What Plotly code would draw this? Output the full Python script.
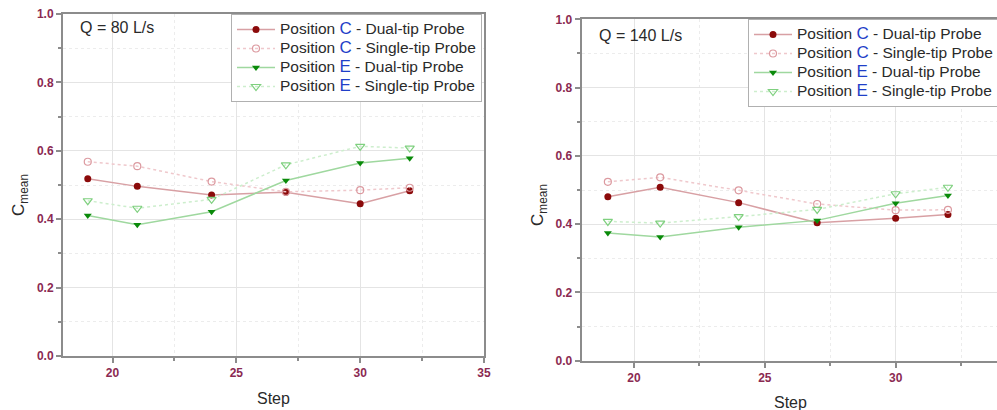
import plotly.graph_objects as go

# Measurement steps
steps = [19, 21, 24, 27, 30, 32]

# Q = 80 L/s
q80_c_dual = [0.518, 0.496, 0.471, 0.479, 0.445, 0.483]
q80_c_single = [0.568, 0.555, 0.510, 0.480, 0.485, 0.492]
q80_e_dual = [0.411, 0.384, 0.422, 0.513, 0.564, 0.578]
q80_e_single = [0.454, 0.432, 0.458, 0.559, 0.613, 0.608]

# Q = 140 L/s
q140_c_dual = [0.480, 0.508, 0.463, 0.404, 0.417, 0.428]
q140_c_single = [0.524, 0.537, 0.499, 0.459, 0.441, 0.442]
q140_e_dual = [0.374, 0.362, 0.391, 0.411, 0.461, 0.484]
q140_e_single = [0.408, 0.403, 0.422, 0.443, 0.489, 0.508]

panel_titles = ["Q = 80 L/s", "Q = 140 L/s"]
y_ticks = [0.0, 0.2, 0.4, 0.6, 0.8, 1.0]
x_ticks = [20, 25, 30, 35]

W, H = 997, 410
def px(x):
    return x / W
def py(y):
    return 1 - y / H

# legend labels: body text at 15.5px, position letter larger and blue
LETTER = "<span style='color:#1f3fc8;font-size:17px'>{}</span>"
def label(letter, probe):
    return ("<span style='font-size:15.5px'>Position " + LETTER.format(letter)
            + " - " + probe + " Probe</span>")

names = [
    label("C", "Dual-tip"),
    label("C", "Single-tip"),
    label("E", "Dual-tip"),
    label("E", "Single-tip"),
]
styles = [
    dict(line=dict(color="#d8a0a4", width=1.5, dash="solid"),
         marker=dict(symbol="circle", size=7, color="#8b0a0a")),
    dict(line=dict(color="#efc8cc", width=1.5, dash="dot"),
         marker=dict(symbol="circle-open", size=7, color="#dc9aa0", line=dict(width=1.2))),
    dict(line=dict(color="#9fd89f", width=1.5, dash="solid"),
         marker=dict(symbol="triangle-down", size=7, color="#0a8a0a")),
    dict(line=dict(color="#cdeecd", width=1.5, dash="dot"),
         marker=dict(symbol="triangle-down-open", size=8, color="#7fd07f", line=dict(width=1.2))),
]

fig = go.Figure()
panels = [
    ("x", "y", "legend", [q80_c_dual, q80_c_single, q80_e_dual, q80_e_single]),
    ("x2", "y2", "legend2", [q140_c_dual, q140_c_single, q140_e_dual, q140_e_single]),
]
for xa, ya, lg, series in panels:
    for name, st, vals in zip(names, styles, series):
        fig.add_trace(go.Scatter(
            x=steps, y=vals, name=name, mode="lines+markers",
            xaxis=xa, yaxis=ya, legend=lg, **st))

tick_font = dict(family="Arial, Liberation Sans", size=12, color="#8b2a52")
axis_common = dict(
    showline=True, linecolor="#8c8c8c", linewidth=2,
    ticks="outside", ticklen=5, tickwidth=1.5, tickcolor="#8c8c8c",
    tickfont=tick_font, showgrid=True, gridcolor="#e4e4e4", gridwidth=1,
    zeroline=False,
)

def x_axis(domain, rng, anchor):
    return dict(axis_common, domain=domain, range=rng, anchor=anchor,
                tickvals=x_ticks, ticktext=[f"<b>{t}</b>" for t in x_ticks], mirror=True,
                minor=dict(dtick=2.5, tick0=17.5, ticks="outside", ticklen=3,
                           tickcolor="#8c8c8c", showgrid=True,
                           gridcolor="#ececec", griddash="dot"))

def y_axis(domain, anchor, mirror):
    return dict(axis_common, domain=domain, range=[0, 1.0], anchor=anchor,
                tickvals=y_ticks, ticktext=[f"<b>{t:.1f}</b>" for t in y_ticks], mirror=mirror,
                minor=dict(dtick=0.1, ticks="outside", ticklen=3,
                           tickcolor="#8c8c8c", showgrid=True,
                           gridcolor="#ececec", griddash="dot"))

legend_style = dict(xanchor="left", yanchor="top", bgcolor="white",
                    bordercolor="#b0b0b0", borderwidth=1, itemwidth=38,
                    font=dict(family="Arial, Liberation Sans", size=12.3, color="#2a2a2a"),
                    tracegroupgap=0)

fig.update_layout(
    width=W, height=H,
    margin=dict(l=0, r=0, t=0, b=0, autoexpand=False),
    paper_bgcolor="white", plot_bgcolor="white",
    font=dict(family="Arial, Liberation Sans", color="#333333"),
    xaxis=x_axis([px(63), px(484)], [18, 35], "y"),
    yaxis=y_axis([py(356), py(14)], "x", True),
    xaxis2=x_axis([px(581.7), 1.0], [18, 33.875], "y2"),
    yaxis2=y_axis([py(360.7), py(19.3)], "x2", False),
    legend=dict(legend_style, x=px(231), y=py(14)),
    legend2=dict(legend_style, x=px(748), y=py(19)),
)

annotations = [
    dict(text=panel_titles[0], x=px(78), y=py(27), xanchor="left", yanchor="middle", size=16),
    dict(text=panel_titles[1], x=px(597), y=py(36), xanchor="left", yanchor="middle", size=16),
    dict(text="Step", x=px(273.5), y=py(398), xanchor="center", yanchor="middle", size=16),
    dict(text="Step", x=px(790), y=py(402), xanchor="center", yanchor="middle", size=16),
    dict(text="C<sub>mean</sub>", x=px(20), y=py(195), xanchor="center", yanchor="middle",
         textangle=-90, size=17),
    dict(text="C<sub>mean</sub>", x=px(539), y=py(205), xanchor="center", yanchor="middle",
         textangle=-90, size=17),
]
for a in annotations:
    size = a.pop("size")
    a.update(xref="paper", yref="paper", showarrow=False,
             font=dict(family="Arial, Liberation Sans", size=size, color="#2a2a2a"))
fig.update_layout(annotations=annotations)

fig.write_html("out.html")
